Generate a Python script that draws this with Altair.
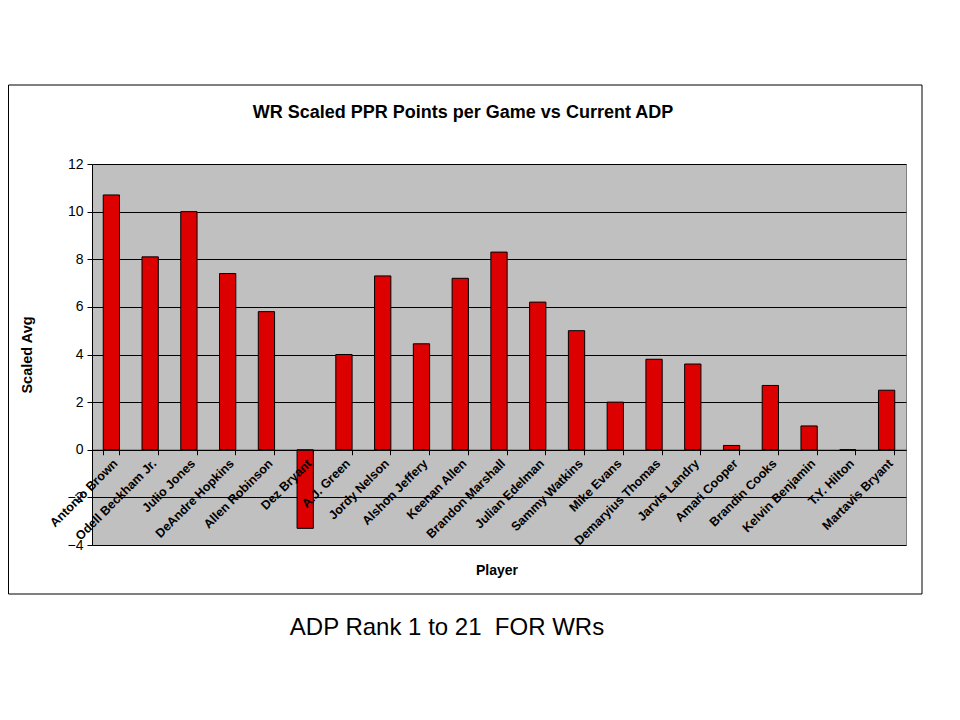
import altair as alt
import pandas as pd

players = ["Antonio Brown", "Odell Beckham Jr.", "Julio Jones", "DeAndre Hopkins",
           "Allen Robinson", "Dez Bryant", "A.J. Green", "Jordy Nelson",
           "Alshon Jeffery", "Keenan Allen", "Brandon Marshall", "Julian Edelman",
           "Sammy Watkins", "Mike Evans", "Demaryius Thomas", "Jarvis Landry",
           "Amari Cooper", "Brandin Cooks", "Kelvin Benjamin", "T.Y. Hilton",
           "Martavis Bryant"]
scaled_avg = [10.7, 8.1, 10.0, 7.4, 5.8, -3.3, 4.0, 7.3, 4.45, 7.2, 8.3, 6.2,
              5.0, 2.0, 3.8, 3.6, 0.18, 2.7, 1.0, 0.0, 2.5]
y_ticks = [-4, -2, 0, 2, 4, 6, 8, 10, 12]

TITLE = "WR Scaled PPR Points per Game vs Current ADP"
Y_TITLE = "Scaled Avg"
X_TITLE = "Player"
CAPTION = "ADP Rank 1 to 21\u00a0 FOR WRs"

FONT = "Liberation Sans, Arial, sans-serif"
W, H = 814, 381
ZERO_OFFSET = -(H * 4 / 16)

df = pd.DataFrame({"Player": players, "Scaled Avg": scaled_avg})

x_enc = alt.X(
    "Player:N", sort=players, title=None,
    scale=alt.Scale(paddingInner=0.58, paddingOuter=0.29),
    axis=alt.Axis(
        orient="bottom", offset=ZERO_OFFSET, labelAngle=-45,
        labelFont=FONT, labelFontSize=12.5, labelFontWeight="bold",
        labelColor="black", labelAlign="right", labelBaseline="top",
        labelPadding=2, bandPosition=1, tickExtra=True,
        tickColor="black", tickSize=5, domainColor="black", domainWidth=1,
        grid=False, zindex=1, labelOverlap=False,
    ),
)
y_enc = alt.Y(
    "Scaled Avg:Q", title=None,
    scale=alt.Scale(domain=[-4, 12], nice=False, zero=False),
    axis=alt.Axis(
        values=y_ticks, labelFont=FONT, labelFontSize=14, labelColor="black",
        tickColor="black", tickSize=5, labelPadding=4, domainColor="black",
        grid=True, gridColor="black", gridWidth=1, zindex=0,
    ),
)

bars = alt.Chart(df).mark_bar(color="#dd0000", stroke="black", strokeWidth=1).encode(
    x=x_enc, y=y_enc
)

one = pd.DataFrame({"k": [0]})

frame = alt.Chart(one).mark_rect(fill="transparent", stroke="black", strokeWidth=1).encode(
    x=alt.value(-83.5), x2=alt.value(830), y=alt.value(-79), y2=alt.value(430)
)

title = alt.Chart(one).mark_text(
    text=TITLE, font=FONT, fontSize=18, fontWeight="bold", color="black",
    align="center", baseline="middle",
).encode(x=alt.value(371), y=alt.value(-51))

ytitle = alt.Chart(one).mark_text(
    text=Y_TITLE, font=FONT, fontSize=14.5, fontWeight="bold", color="black",
    align="center", baseline="middle", angle=270,
).encode(x=alt.value(-64), y=alt.value(191))

xtitle = alt.Chart(one).mark_text(
    text=X_TITLE, font=FONT, fontSize=14, fontWeight="bold", color="black",
    align="center", baseline="middle",
).encode(x=alt.value(405), y=alt.value(407))

caption = alt.Chart(one).mark_text(
    text=CAPTION, font=FONT, fontSize=24, color="black",
    align="center", baseline="middle",
).encode(x=alt.value(355), y=alt.value(464))

chart = alt.layer(frame, bars, title, ytitle, xtitle, caption).properties(
    width=W, height=H,
    autosize=alt.AutoSizeParams(type="none"),
    padding={"left": 84, "top": 156, "right": 40, "bottom": 180},
    background="white",
).configure_view(fill="#c0c0c0", stroke="#808080", strokeWidth=1)

chart.save("out.html", embed_options={"renderer": "svg", "actions": False})
